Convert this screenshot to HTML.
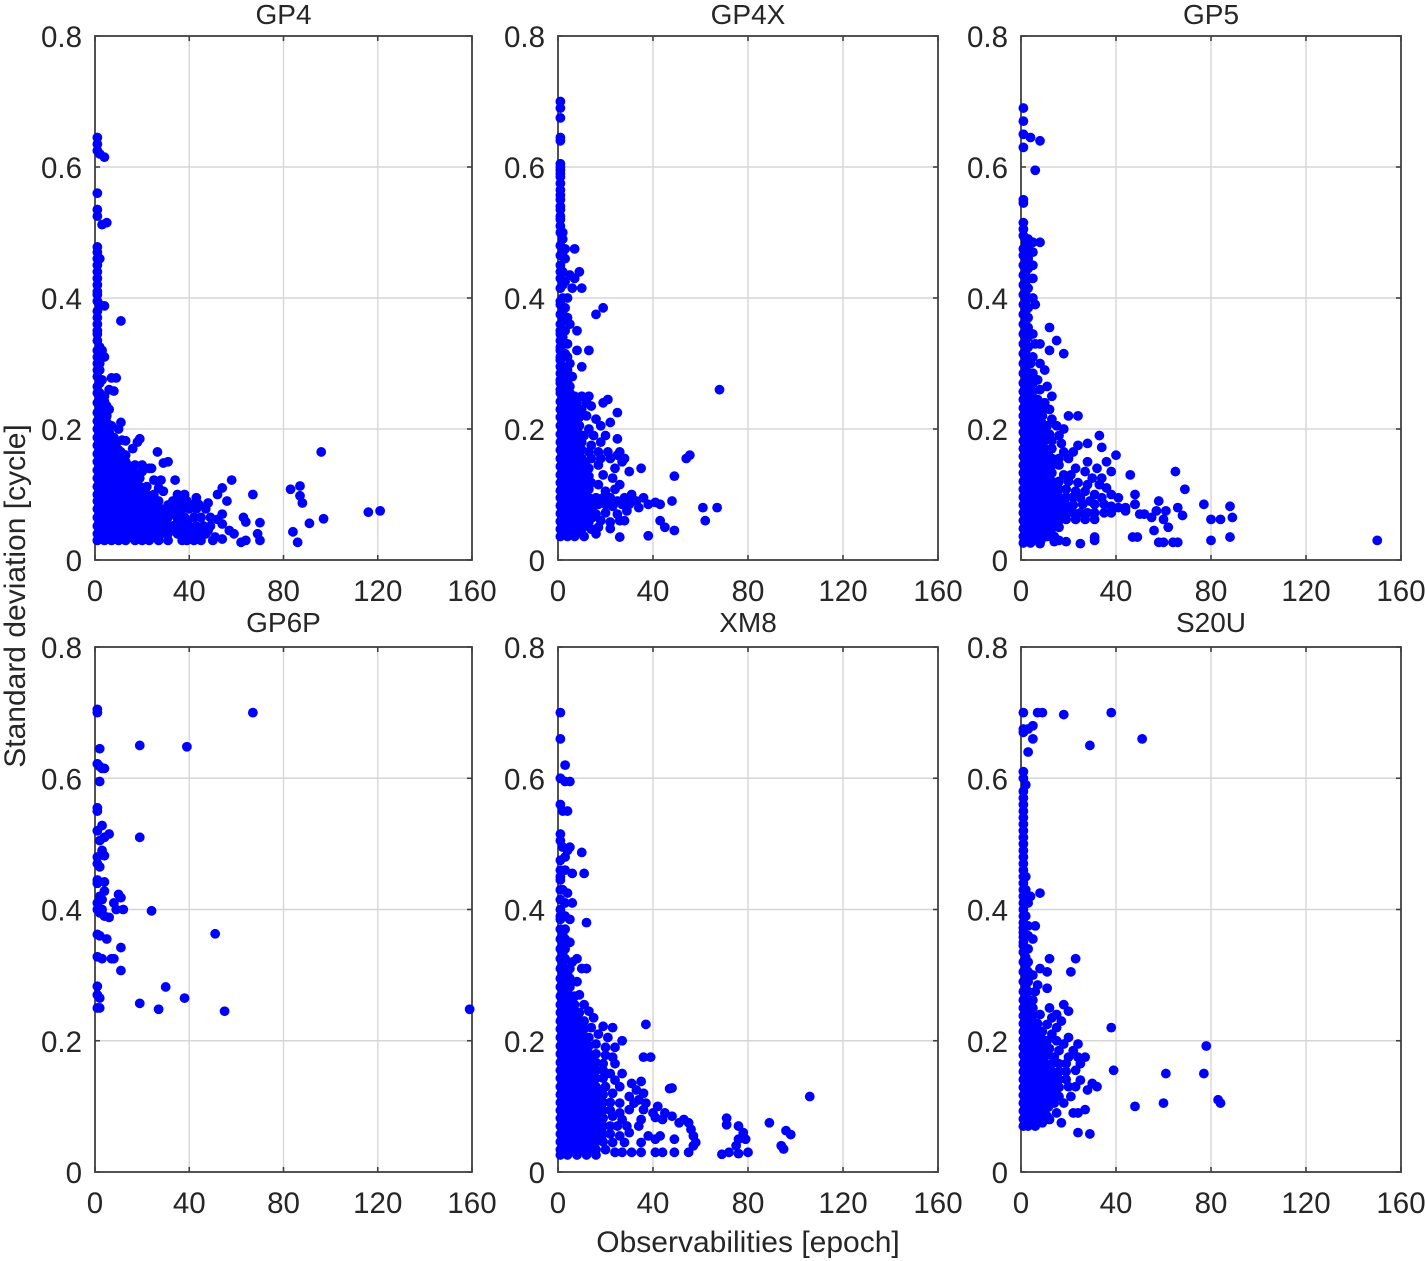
<!DOCTYPE html>
<html lang="en">
<head>
<meta charset="utf-8">
<title>Standard deviation vs observabilities</title>
<style>
html,body{margin:0;padding:0;background:#fff}
svg{display:block}
text{font-family:"Liberation Sans",Arial,sans-serif;fill:#262626}
</style>
</head>
<body>
<svg id="chart" width="1425" height="1261" viewBox="0 0 1425 1261" xmlns="http://www.w3.org/2000/svg"></svg>
<script>
const panelTitles = ["GP4", "GP4X", "GP5", "GP6P", "XM8", "S20U"];
const xTicks = [0, 40, 80, 120, 160];
const yTicks = [0, 0.2, 0.4, 0.6, 0.8];
const xAxisTitle = "Observabilities [epoch]";
const yAxisTitle = "Standard deviation [cycle]";

const gp4Points = [
[1,.645],[1,.635],[1,.625],[2,.62],[4,.615],[1,.56],[1,.535],[1,.525],[3,.512],[5,.515],[1,.478],[1,.47],[2,.46],[1,.45],[1,.43],[1,.42],[1,.41],[2,.39],[4,.388],[1,.38],[1,.37],[11,.365],[1,.35],[1,.335],[2,.325],[3,.32],[1,.31],[4,.31],[1,.3],[2,.29],[1,.28],[3,.275],[7,.278],[9,.278],[1,.265],[2,.255],[6,.26],[8,.258],[4,.25],
[1,.24],[3,.24],[5,.235],[6,.23],[1,.225],[3,.225],[5,.22],[1,.212],[3,.212],[5,.21],[7,.205],[11,.21],[10,.2],[1,.2],[3,.2],[5,.2],[6,.195],[1,.187],[3,.187],[5,.187],[8,.187],[1,.175],[3,.175],[5,.175],[7,.175],[9,.178],[11.5,.183],[13,.182],[19,.185],[18,.18],[16,.17],[1,.162],[3,.162],[5,.162],[7,.162],[9,.162],[11,.165],[13,.16],
[1,.15],[3,.15],[5,.15],[7,.15],[9,.15],[11,.15],[13,.15],[17,.145],[20,.145],[23,.14],[26.5,.165],[31,.15],[29,.148],[1,.137],[4,.137],[7,.137],[10,.137],[13,.137],[16,.137],[20,.135],[24,.14],[1,.125],[4,.125],[7,.125],[10,.125],[13,.125],[16,.125],[19,.125],[25,.122],[28,.122],[34,.122],
[1,.112],[4,.112],[7,.112],[10,.112],[13,.112],[16,.112],[19,.112],[22,.112],[27,.11],[1,.1],[4,.1],[7,.1],[10,.1],[13,.1],[16,.1],[19,.1],[22,.1],[25,.1],[29,.105],[35,.1],[38,.1],[43,.095],
[1,.09],[4,.09],[7,.09],[10,.09],[13,.09],[16,.09],[19,.09],[22,.09],[25,.09],[27,.09],[33,.09],[36,.09],[39,.09],[42,.085],[44,.085],[48,.087],[1,.078],[4,.078],[7,.078],[10,.078],[13,.078],[16,.078],[19,.078],[22,.078],[25,.078],[28,.078],[30,.078],[34,.078],[37,.078],[40,.078],[43,.078],[47,.078],
[1,.065],[4,.065],[7,.065],[10,.065],[13,.065],[16,.065],[19,.065],[22,.065],[25,.065],[28,.065],[31,.065],[35,.065],[38,.065],[42,.065],[45,.065],[49,.065],[52,.062],[1,.052],[4,.052],[7,.052],[10,.052],[13,.052],[16,.052],[19,.052],[22,.052],[25,.052],[28,.052],[33,.052],[37,.052],[40,.052],[43,.052],[46,.052],[49,.052],
[1,.04],[4,.04],[7,.04],[10,.04],[13,.04],[16,.04],[19,.04],[22,.04],[25,.04],[28,.04],[31,.04],[35,.04],[38,.04],[41,.04],[44,.04],[47,.04],[1,.03],[4,.03],[7,.03],[10,.03],[13,.03],[17,.03],[20,.03],[23,.03],[27,.03],[31,.03],[37,.03],[39,.03],[42,.03],[45,.03],[50,.03],[51,.035],[54,.032],
[96,.165],[121,.075],[116,.073],[97,.063],[91,.056],[86,.027],[84,.043],[83,.108],[87,.113],[87,.098],[88,.087],[70,.057],[69,.04],[70,.03],[63,.065],[64,.058],[62,.027],[64,.03],[67,.1],[58,.122],[54,.11],[52,.1],[56,.09],[54,.07],[54,.055],[57,.045],[59,.04],[48,.045],
[2.5,.035],[5.5,.035],[8.5,.035],[11.5,.035],[15,.035],[18,.035],[21,.035],[25,.035],
[2.5,.046],[5.5,.046],[8.5,.046],[11.5,.046],[14.5,.046],[17.5,.046],[20.5,.046],[23.5,.046],[26.5,.046],[30,.046],[33,.046],[36,.046],[39,.046],
[2.5,.058],[5.5,.058],[8.5,.058],[11.5,.058],[14.5,.058],[17.5,.058],[20.5,.058],[23.5,.058],[26.5,.058],[30,.058],[35,.058],[39,.058],
[2.5,.071],[5.5,.071],[8.5,.071],[11.5,.071],[14.5,.071],[17.5,.071],[20.5,.071],[23.5,.071],[26.5,.071],[29.5,.071],[33,.071],[36,.071],
[2.5,.084],[5.5,.084],[8.5,.084],[11.5,.084],[14.5,.084],[17.5,.084],[20.5,.084],[23.5,.084],[26,.084],[31,.084],[35,.084],
[2.5,.095],[5.5,.095],[8.5,.095],[11.5,.095],[14.5,.095],[17.5,.095],[20.5,.095],[23.5,.095],
[2.5,.106],[5.5,.106],[8.5,.106],[11.5,.106],[14.5,.106],[17.5,.106],[20.5,.106],
[2.5,.118],[5.5,.118],[8.5,.118],[11.5,.118],[14.5,.118],[17.5,.118],
[2.5,.131],[5.5,.131],[8.5,.131],[11.5,.131],[14.5,.131],[18,.131],
[2.5,.143],[5.5,.143],[8.5,.143],[11.5,.143],[15,.143],
[2,.156],[4,.156],[6,.156],[8,.156],[10,.156],[12,.156],[2,.168],[4,.168],[6,.168],[8,.168],[10,.168],
[2,.181],[4,.181],[6,.181],[7,.181],[2,.193],[4,.193],[6,.193],[2,.206],[4,.206],[2,.218],[4,.218],[2,.231],[4,.231],[2,.247],[4,.242],
[1,.345],[1,.36],[1,.395],[1,.44],[1,.405],[2,.3],[2,.27],[1,.29],[1,.255],[1,.32],[1,.46]
];

const gp4xPoints = [
[1,.7],[1,.69],[1,.675],[1,.645],[1,.64],[1,.605],[1,.595],[1,.585],[1,.575],[1,.565],[1,.55],[1,.535],[1,.525],[1,.51],[1,.5],[2,.49],[1,.48],[3,.475],[7,.475],[1,.465],[3,.46],[1,.45],[2,.44],[5,.435],[9,.44],[7,.43],[1,.43],[3,.425],[10,.415],[6,.415],[1,.415],[2,.4],[4,.4],[1,.39],[3,.385],[19,.385],[16,.375],[1,.375],[2,.365],[5,.36],[1,.35],[3,.35],[8,.35],[1,.335],[3,.33],[8,.32],[13,.32],[1,.32],[3,.315],[1,.305],[10,.295],[2,.295],[5,.3],[1,.285],[3,.28],[6,.28],[1,.27],[3,.268],[5,.265],
[1,.255],[3,.255],[5,.255],[7,.25],[10,.25],[13,.25],[1,.242],[3,.242],[5,.242],[8,.24],[12,.24],[19,.24],[21,.245],[1,.23],[3,.23],[5,.23],[7,.23],[10,.23],[14,.235],[25,.225],[1,.218],[3,.218],[5,.218],[7,.218],[9,.218],[12,.22],[16,.215],[22,.21],[1,.205],[3,.205],[5,.205],[7,.205],[9,.205],[13,.2],[18,.205],[1,.192],[3,.192],[5,.192],[7,.192],[9,.192],[11,.19],[15,.19],[20,.19],[25,.185],
[1,.18],[4,.18],[7,.18],[10,.18],[14,.175],[18,.18],[1,.168],[4,.168],[7,.168],[10,.168],[13,.165],[17,.165],[21,.165],[26,.165],[1,.155],[4,.155],[7,.155],[10,.155],[14,.155],[18,.155],[22,.155],[25,.16],[28,.155],[1,.143],[4,.143],[7,.143],[10,.143],[13,.14],[17,.145],[24,.14],[27,.15],[35,.14],[30,.135],[1,.13],[4,.13],[7,.13],[10,.13],[13,.128],[19,.13],[23,.125],[1,.118],[4,.118],[7,.118],[10,.118],[14,.118],[17,.115],[26,.115],[1,.106],[4,.106],[7,.106],[10,.106],[13,.108],[20,.105],[24,.108],[31,.1],
[1,.095],[4,.095],[7,.095],[10,.095],[13,.095],[16,.095],[19,.095],[22,.095],[25,.09],[28,.095],[31,.09],[33,.09],[36,.095],[1,.083],[4,.083],[7,.083],[10,.083],[13,.083],[17,.085],[20,.085],[23,.082],[27,.085],[30,.085],[34,.08],[1,.071],[4,.071],[7,.071],[10,.071],[13,.071],[16,.07],[20,.072],[25,.07],[29,.075],[1,.059],[4,.059],[7,.059],[10,.059],[13,.058],[18,.06],[22,.058],[26,.06],[28,.06],[1,.047],[4,.047],[7,.047],[10,.047],[14,.047],[17,.05],[22,.048],[1,.036],[4,.036],[7,.036],[11,.036],[16,.04],[26,.035],
[68,.26],[55.5,.16],[54,.155],[49,.128],[48,.09],[61,.08],[62,.06],[67,.08],[49,.045],[41,.088],[38,.085],[38,.037],[43,.06],[45,.05],[43,.085],
[2.5,.042],[5.5,.042],[8.5,.042],[2.5,.053],[5.5,.053],[8.5,.053],[11.5,.053],[2.5,.065],[5.5,.065],[8.5,.065],[11.5,.065],[14.5,.065],[2.5,.077],[5.5,.077],[8.5,.077],[11.5,.077],[14.5,.077],[2.5,.089],[5.5,.089],[8.5,.089],[11.5,.089],[14.5,.089],[2.5,.101],[5.5,.101],[8.5,.101],[11.5,.101],[2.5,.112],[5.5,.112],[8.5,.112],[11.5,.112],[2.5,.124],[5.5,.124],[8.5,.124],[11.5,.124],[2.5,.136],[5.5,.136],[8.5,.136],[11.5,.136],[2.5,.149],[5.5,.149],[8.5,.149],[11.5,.149],[2.5,.161],[5.5,.161],[8.5,.161],[2.5,.174],[5.5,.174],[8.5,.174],[2.5,.186],[5.5,.186],[8.5,.186],[2,.199],[4,.199],[6,.199],[8,.199],[2,.212],[4,.212],[6,.212],[2,.224],[4,.224],[6,.224],[2,.236],[4,.236],[2,.248],[4,.248],
[2,.26],[2,.28],[2,.31],[2,.34],[2,.38],[4,.27],[4,.29],[4,.31],[4,.33],[4,.37],[1,.52],[1,.54],[1,.557],[1,.59],[1,.6],[1,.44],[1,.395],[1,.36],[1,.345],[1,.325],[1,.31],[1,.295],[1,.275],[1,.26],[2,.5],[2,.47],[2,.42]
];

const gp5Points = [
[1,.69],[1,.67],[1,.65],[1,.63],[4,.645],[8,.64],[6,.595],[1,.55],[1,.545],[1,.515],[1,.505],[1,.495],[2,.485],[3,.49],[5,.485],[8,.485],[1,.475],[3,.475],[1,.465],[3,.46],[5,.47],[1,.45],[3,.445],[5,.45],[1,.435],[3,.43],[5,.43],[1,.42],[3,.415],[1,.405],[3,.4],[5,.4],[1,.39],[3,.385],[6,.39],[1,.375],[3,.37],[1,.36],[3,.355],[1,.345],[3,.34],[5,.345],[12,.355],[18,.315],[15,.335],[12,.32],[1,.33],[3,.325],[6,.33],[8,.33],[1,.315],[3,.31],[5,.31],[1,.3],[4,.3],[8,.3],[10,.29],[1,.285],[3,.285],[5,.285],[7,.275],[1,.27],[3,.27],[5,.27],
[1,.257],[3,.257],[5,.257],[8,.26],[11,.265],[1,.245],[3,.245],[5,.245],[7,.245],[10,.24],[13,.25],[1,.232],[3,.232],[5,.232],[7,.232],[9,.232],[12,.23],[1,.22],[3,.22],[5,.22],[7,.22],[9,.22],[13,.215],[20,.22],[24,.22],[1,.208],[3,.208],[5,.208],[7,.208],[9,.208],[11,.205],[15,.205],[18,.2],[1,.195],[3,.195],[5,.195],[7,.195],[9,.195],[12,.192],[16,.19],[33,.19],[1,.182],[4,.182],[7,.182],[10,.182],[13,.182],[17,.178],[24,.175],[28,.178],[34,.172],[1,.17],[4,.17],[7,.17],[10,.17],[13,.17],[18,.165],[22,.165],[40,.16],[36,.15],
[1,.158],[4,.158],[7,.158],[10,.158],[13,.155],[16,.155],[20,.155],[28,.15],[32,.14],[38,.135],[1,.145],[4,.145],[7,.145],[10,.145],[13,.145],[16,.145],[23,.14],[27,.135],[1,.133],[4,.133],[7,.133],[10,.133],[13,.133],[18,.13],[21,.13],[30,.125],[34,.125],[46,.13],[1,.12],[4,.12],[7,.12],[10,.12],[13,.12],[16,.12],[20,.12],[24,.118],[28,.115],[33,.115],[36,.11],
[1,.108],[4,.108],[7,.108],[10,.108],[13,.108],[16,.108],[19,.108],[23,.105],[27,.105],[31,.1],[38,.1],[48,.1],[1,.096],[4,.096],[7,.096],[10,.096],[13,.096],[16,.096],[19,.096],[22,.096],[25,.095],[29,.09],[34,.095],[41,.095],[1,.084],[4,.084],[7,.084],[10,.084],[13,.084],[16,.084],[19,.084],[22,.084],[26,.085],[31,.085],[35,.085],[38,.082],[41,.08],[44,.08],[48,.085],[1,.072],[4,.072],[7,.072],[10,.072],[13,.072],[16,.072],[19,.072],[22,.072],[25,.072],[28,.072],[31,.072],[35,.072],[38,.072],[44,.075],
[1,.06],[4,.06],[7,.06],[10,.06],[13,.06],[16,.06],[19,.062],[23,.062],[27,.062],[31,.062],[1,.048],[4,.048],[7,.048],[10,.048],[13,.048],[16,.05],[1,.036],[4,.036],[7,.036],[11,.036],[14,.036],[1,.026],[4,.026],[8,.025],[14,.028],[16,.03],[19,.028],[25,.025],[31,.03],[31,.035],
[150,.03],[88,.082],[89,.065],[84,.062],[80,.062],[80,.03],[88,.035],[77,.085],[69,.108],[65,.135],[68,.068],[66,.08],[61,.075],[58,.09],[57,.075],[60,.062],[62,.05],[55,.065],[52,.07],[56,.045],[58,.027],[60,.027],[64,.027],[66,.027],[50,.07],[48,.085],[47,.035],[49,.035],
[2.5,.031],[5.5,.031],[8.5,.031],[2.5,.042],[5.5,.042],[8.5,.042],[11.5,.042],[2.5,.054],[5.5,.054],[8.5,.054],[11.5,.054],[14.5,.054],[2.5,.066],[5.5,.066],[8.5,.066],[11.5,.066],[14.5,.066],[17.5,.066],[2.5,.078],[5.5,.078],[8.5,.078],[11.5,.078],[14.5,.078],[17.5,.078],[20.5,.078],[2.5,.09],[5.5,.09],[8.5,.09],[11.5,.09],[14.5,.09],[17.5,.09],[2.5,.102],[5.5,.102],[8.5,.102],[11.5,.102],[14.5,.102],[2.5,.114],[5.5,.114],[8.5,.114],[11.5,.114],[14.5,.114],[2.5,.127],[5.5,.127],[8.5,.127],[11.5,.127],[2.5,.139],[5.5,.139],[8.5,.139],[11.5,.139],[2.5,.151],[5.5,.151],[8.5,.151],[11.5,.151],[2.5,.164],[5.5,.164],[8.5,.164],[11.5,.164],[2.5,.176],[5.5,.176],[8.5,.176],[2.5,.188],[5.5,.188],[8.5,.188],[2,.201],[4,.201],[6,.201],[8,.201],[2,.214],[4,.214],[6,.214],[2,.226],[4,.226],[6,.226],[2,.238],[4,.238],[2,.25],[4,.25],[2,.264],[4,.264],[2,.278],[4,.278],[2,.292],[2,.307],[2,.32],[2,.335],[2,.35],[2,.365],[2,.38],[2,.395],[2,.41],[2,.425],[2,.44],[2,.455],[2,.47]
];

const gp6pPoints = [
[1,.705],[1,.7],[67,.7],[19,.65],[39,.648],[2,.645],[1,.622],[2,.618],[3,.615],[4,.615],[2,.595],[1,.555],[1,.55],[3,.528],[1,.52],[6,.515],[4,.51],[2,.505],[19,.51],[3,.49],[1,.48],[4,.482],[1,.47],[2,.465],[1,.445],[1,.44],[4,.442],[10,.423],[11,.418],[2,.42],[4,.428],[3,.415],[8,.41],[9,.4],[12,.4],[24,.398],[1,.41],[1,.4],[2,.395],[3,.4],[6,.388],[4,.39],[1,.362],[2,.36],[5,.355],[51,.363],[11,.342],[1,.328],[3,.325],[7,.325],[8,.325],[11,.307],[30,.282],[1,.283],[1,.27],[2,.265],[38,.265],[19,.257],[1,.25],[2,.25],[27,.248],[55,.245],[159,.248]
];

const xm8Points = [
[1,.7],[1,.66],[1,.6],[3,.62],[3,.595],[5,.595],[4,.55],[1,.56],[2,.55],[1,.515],[1,.505],[2,.495],[4,.49],[5,.495],[3,.48],[1,.475],[10,.487],[1,.46],[3,.46],[6,.455],[11,.455],[1,.445],[2,.43],[4,.425],[1,.415],[3,.41],[6,.41],[1,.4],[3,.39],[12,.38],[1,.385],[5,.385],[1,.37],[3,.37],[1,.355],[3,.355],[5,.35],[1,.34],[3,.34],[1,.325],[3,.325],[6,.32],[8,.325],[1,.31],[3,.31],[5,.31],[10,.31],[12,.31],[1,.295],[3,.295],[5,.295],[8,.29],[1,.282],[3,.282],[5,.282],[9,.27],[1,.268],[3,.268],[5,.268],[7,.268],
[1,.255],[3,.255],[5,.255],[7,.255],[11,.255],[1,.243],[3,.243],[5,.243],[7,.243],[9,.243],[13,.245],[1,.23],[3,.23],[5,.23],[7,.23],[9,.23],[11,.23],[15,.235],[1,.218],[3,.218],[5,.218],[7,.218],[9,.218],[11,.218],[14,.22],[19,.222],[23,.22],[37,.225],[1,.205],[3,.205],[5,.205],[7,.205],[9,.205],[11,.205],[13,.205],[17,.21],[21,.205],[1,.192],[3,.192],[5,.192],[7,.192],[9,.192],[11,.192],[13,.192],[16,.195],[20,.19],[24,.19],[27,.2],
[1,.18],[4,.18],[7,.18],[10,.18],[13,.18],[16,.18],[20,.178],[23,.175],[36,.175],[39,.175],[1,.167],[4,.167],[7,.167],[10,.167],[13,.167],[16,.167],[19,.165],[24,.165],[1,.155],[4,.155],[7,.155],[10,.155],[13,.155],[16,.155],[19,.155],[22,.15],[27,.15],[1,.143],[4,.143],[7,.143],[10,.143],[13,.143],[16,.143],[19,.143],[24,.14],[31,.135],[35,.138],[1,.13],[4,.13],[7,.13],[10,.13],[13,.13],[16,.13],[20,.13],[26,.13],[33,.125],[36,.12],[48,.128],[47,.127],
[1,.118],[4,.118],[7,.118],[10,.118],[13,.118],[16,.118],[19,.118],[23,.12],[30,.115],[34,.11],[1,.106],[4,.106],[7,.106],[10,.106],[13,.106],[16,.106],[19,.106],[22,.106],[26,.105],[32,.105],[37,.105],[42,.1],[1,.094],[4,.094],[7,.094],[10,.094],[13,.094],[16,.094],[19,.094],[22,.094],[26,.09],[30,.095],[36,.095],[40,.09],[45,.09],[48,.085],[1,.082],[4,.082],[7,.082],[10,.082],[13,.082],[16,.082],[19,.082],[23,.085],[27,.08],[35,.08],[41,.083],[44,.08],[51,.075],
[1,.07],[4,.07],[7,.07],[10,.07],[13,.07],[16,.07],[19,.07],[22,.07],[25,.07],[29,.07],[34,.07],[1,.058],[4,.058],[7,.058],[10,.058],[13,.058],[16,.058],[19,.058],[22,.058],[26,.055],[30,.06],[38,.055],[43,.055],[1,.046],[4,.046],[7,.046],[10,.046],[13,.046],[16,.046],[19,.046],[23,.045],[28,.045],[35,.045],[41,.05],[1,.034],[4,.034],[7,.034],[10,.034],[13,.034],[16,.034],[20,.034],[24,.03],[27,.03],[31,.03],[35,.03],[41,.03],[44,.03],[1,.026],[4,.026],[8,.026],[12,.026],[16,.026],
[106,.115],[98,.057],[96,.063],[95,.035],[94,.04],[89,.075],[79,.05],[76,.05],[75,.04],[72,.03],[76,.028],[80,.03],[71,.082],[71,.072],[76,.07],[78,.06],[69,.027],[58,.045],[57,.055],[56,.065],[55,.075],[53,.08],[57,.04],[55,.03],[49,.05],[49,.03],
[2.5,.04],[5.5,.04],[8.5,.04],[11.5,.04],[14.5,.04],[2.5,.052],[5.5,.052],[8.5,.052],[11.5,.052],[14.5,.052],[17.5,.052],[2.5,.064],[5.5,.064],[8.5,.064],[11.5,.064],[14.5,.064],[17.5,.064],[2.5,.076],[5.5,.076],[8.5,.076],[11.5,.076],[14.5,.076],[17.5,.076],[2.5,.088],[5.5,.088],[8.5,.088],[11.5,.088],[14.5,.088],[17.5,.088],[2.5,.1],[5.5,.1],[8.5,.1],[11.5,.1],[14.5,.1],[17.5,.1],[2.5,.112],[5.5,.112],[8.5,.112],[11.5,.112],[14.5,.112],[17.5,.112],[2.5,.124],[5.5,.124],[8.5,.124],[11.5,.124],[14.5,.124],[17.5,.124],[2.5,.136],[5.5,.136],[8.5,.136],[11.5,.136],[14.5,.136],[2.5,.149],[5.5,.149],[8.5,.149],[11.5,.149],[14.5,.149],[2.5,.161],[5.5,.161],[8.5,.161],[11.5,.161],[14.5,.161],[2.5,.174],[5.5,.174],[8.5,.174],[11.5,.174],[14.5,.174],[2.5,.186],[5.5,.186],[8.5,.186],[11.5,.186],[2,.199],[4,.199],[6,.199],[8,.199],[10,.199],[12,.199],[2,.212],[4,.212],[6,.212],[8,.212],[10,.212],[2,.224],[4,.224],[6,.224],[8,.224],[2,.236],[4,.236],[6,.236],[8,.236],[2,.249],[4,.249],[6,.249],[2,.262],[4,.262],[6,.262],[2,.275],[4,.275],[2,.288],[4,.288],[2,.302],[4,.302],[2,.318],[2,.333],[2,.348],[2,.362],[1,.39],[1,.43],[1,.45]
];

const s20uPoints = [
[38,.7],[18,.697],[7,.7],[9,.7],[1,.7],[51,.66],[29,.65],[1,.67],[1,.675],[3,.675],[5,.68],[5,.66],[3,.64],[1,.61],[1,.6],[2,.59],[1,.58],[1,.57],[1,.56],[1,.55],[1,.54],[1,.53],[1,.52],[1,.51],[1,.5],[1,.49],[1,.47],[1,.46],[2,.45],[1,.44],[2,.43],[4,.42],[8,.425],[1,.41],[3,.41],[1,.4],[2,.39],[1,.38],[3,.375],[6,.375],[1,.365],[3,.36],[5,.355],[1,.35],[3,.34],[1,.335],[12,.325],[23,.325],[21,.305],[11,.305],[8,.31],[1,.32],[3,.32],[1,.305],[3,.305],[5,.3],[1,.29],[3,.29],[7,.285],[11,.28],[1,.275],[3,.275],[6,.275],[1,.262],[3,.262],[5,.262],
[1,.25],[3,.25],[5,.25],[12,.25],[18,.255],[20,.245],[15,.24],[1,.238],[3,.238],[5,.238],[8,.24],[13,.235],[17,.23],[1,.226],[3,.226],[5,.226],[7,.226],[11,.225],[15,.22],[38,.22],[1,.214],[3,.214],[5,.214],[7,.214],[9,.214],[13,.21],[20,.205],[1,.202],[3,.202],[5,.202],[7,.202],[9,.202],[11,.2],[15,.2],[18,.195],[24,.195],[1,.19],[3,.19],[5,.19],[7,.19],[9,.19],[12,.188],[16,.185],[22,.185],[1,.178],[3,.178],[5,.178],[7,.178],[9,.178],[11,.178],[14,.175],[20,.175],[24,.175],[27,.175],
[1,.165],[4,.165],[7,.165],[10,.165],[13,.165],[16,.165],[19,.165],[25,.165],[1,.153],[4,.153],[7,.153],[10,.153],[13,.153],[16,.153],[19,.153],[23,.155],[39,.155],[1,.141],[4,.141],[7,.141],[10,.141],[13,.141],[16,.141],[19,.141],[25,.14],[1,.129],[4,.129],[7,.129],[10,.129],[13,.129],[16,.129],[20,.13],[23,.13],[28,.125],[30,.135],[32,.13],[1,.117],[4,.117],[7,.117],[10,.117],[13,.117],[16,.115],[21,.115],[1,.105],[4,.105],[7,.105],[10,.105],[14,.105],[18,.105],[1,.093],[4,.093],[7,.093],[10,.093],[15,.09],[22,.09],[24,.09],[27,.095],[1,.081],[4,.081],[7,.081],[11,.085],[1,.07],[3,.07],[6,.07],[9,.075],[12,.08],[17,.075],
[78,.192],[61,.15],[77,.15],[60,.105],[48,.1],[83,.11],[84,.105],[29,.058],[24,.06],
[2.5,.076],[5.5,.076],[8.5,.082],[2.5,.087],[5.5,.087],[8.5,.087],[2.5,.099],[5.5,.099],[8.5,.099],[11.5,.099],[2.5,.111],[5.5,.111],[8.5,.111],[11.5,.111],[2.5,.123],[5.5,.123],[8.5,.123],[11.5,.123],[14.5,.123],[2.5,.135],[5.5,.135],[8.5,.135],[11.5,.135],[14.5,.135],[2.5,.147],[5.5,.147],[8.5,.147],[11.5,.147],[14.5,.147],[2.5,.159],[5.5,.159],[8.5,.159],[11.5,.159],[2.5,.171],[5.5,.171],[8.5,.171],[2,.184],[4,.184],[6,.184],[8,.184],[2,.196],[4,.196],[6,.196],[2,.208],[4,.208],[6,.208],[2,.22],[4,.22],[2,.232],[4,.232],[2,.244],[2,.256],[2,.268],[2,.282],[2,.297],[2,.312],[2,.327],[1,.345],[1,.358],[1,.372],[1,.39],[1,.42],[1,.43],[1,.45],[1,.48]
];

const panelData = [gp4Points, gp4xPoints, gp5Points, gp6pPoints, xm8Points, s20uPoints];
const panelKeys = ["gp4", "gp4x", "gp5", "gp6p", "xm8", "s20u"];

const NS = "http://www.w3.org/2000/svg";
const root = document.getElementById("chart");
const columnLeft = [95, 558, 1021];
const columnRight = [472, 938, 1401];
const rowTop = [36, 647];
const rowBottom = [560, 1172];
const titleBaseline = [24, 632];

function make(tag, attrs, parent, content) {
  const el = document.createElementNS(NS, tag);
  for (const k in attrs) el.setAttribute(k, attrs[k]);
  if (content !== undefined) el.textContent = content;
  parent.appendChild(el);
  return el;
}

panelTitles.forEach(function (title, i) {
  const col = i % 3;
  const row = Math.floor(i / 3);
  const left = columnLeft[col], right = columnRight[col];
  const top = rowTop[row], bottom = rowBottom[row];
  const xScale = function (v) { return left + (v - xTicks[0]) / (xTicks[xTicks.length - 1] - xTicks[0]) * (right - left); };
  const yScale = function (v) { return bottom - (v - yTicks[0]) / (yTicks[yTicks.length - 1] - yTicks[0]) * (bottom - top); };

  const group = make("g", {}, root);
  
  

  const titleEl = make("text", { x: (left + right) / 2, y: titleBaseline[row], "text-anchor": "middle", "font-size": 28 }, group, title);
  
  

  xTicks.forEach(function (t) {
    const x = xScale(t);
    if (t !== xTicks[0] && t !== xTicks[xTicks.length - 1]) {
      const grid = make("line", { x1: x, x2: x, y1: top, y2: bottom, stroke: "#d6d6d6", "stroke-width": 1.4 }, group);
      
      
    }
    const label = make("text", { x: x, y: bottom + 41, "text-anchor": "middle", "font-size": 29.5 }, group, String(t));
    
    
  });

  yTicks.forEach(function (t) {
    const y = yScale(t);
    if (t !== yTicks[0] && t !== yTicks[yTicks.length - 1]) {
      const grid = make("line", { x1: left, x2: right, y1: y, y2: y, stroke: "#d6d6d6", "stroke-width": 1.4 }, group);
      
      
    }
    const label = make("text", { x: left - 13, y: y + 11, "text-anchor": "end", "font-size": 29.5 }, group, t === 0 ? "0" : t.toFixed(1));
    
    
  });

  const box = make("rect", { x: left, y: top, width: right - left, height: bottom - top, fill: "none", stroke: "#404040", "stroke-width": 1.8 }, group);
  
  

  xTicks.forEach(function (t) {
    const x = xScale(t);
    const tickBottom = make("line", { x1: x, x2: x, y1: bottom, y2: bottom - 5, stroke: "#404040", "stroke-width": 1.6 }, group);
    
    
    const tickTop = make("line", { x1: x, x2: x, y1: top, y2: top + 5, stroke: "#404040", "stroke-width": 1.6 }, group);
    
    
  });
  yTicks.forEach(function (t) {
    const y = yScale(t);
    const tickLeft = make("line", { x1: left, x2: left + 5, y1: y, y2: y, stroke: "#404040", "stroke-width": 1.6 }, group);
    
    
    const tickRight = make("line", { x1: right, x2: right - 5, y1: y, y2: y, stroke: "#404040", "stroke-width": 1.6 }, group);
    
    
  });

  panelData[i].forEach(function (p) {
    const dot = make("circle", { cx: xScale(p[0]), cy: yScale(p[1]), r: 4.9, fill: "#0000ff" }, group);
    
    
  });
});

const xTitleEl = make("text", { x: 748, y: 1252, "text-anchor": "middle", "font-size": 30 }, root, xAxisTitle);



const yTitleEl = make("text", { x: 0, y: 0, "text-anchor": "middle", "font-size": 30, transform: "translate(25 596) rotate(-90)" }, root, yAxisTitle);


</script>
</body>
</html>
